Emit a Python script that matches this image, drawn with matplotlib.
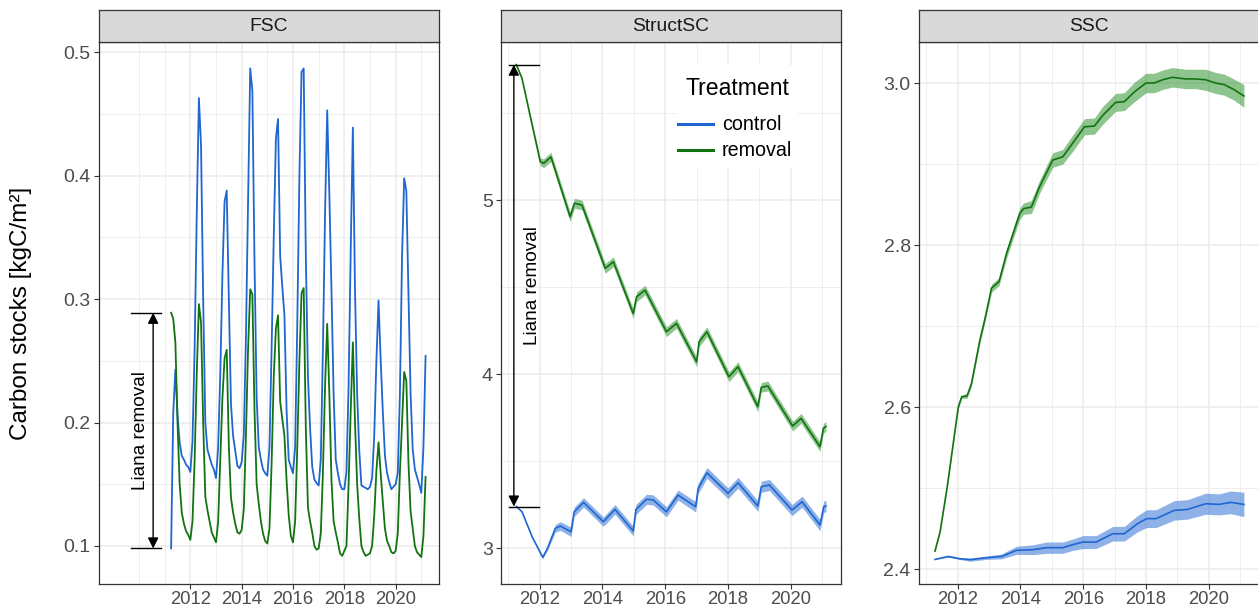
import numpy as np
import matplotlib
matplotlib.use("Agg")
import matplotlib.pyplot as plt
from matplotlib.patches import Rectangle
from matplotlib.lines import Line2D

plt.rcParams['font.family'] = ['Liberation Sans', 'DejaVu Sans']

# ---------------------------------------------------------------- data
# FSC: monthly values, April 2011 .. March 2021
fsc_start = 2011 + 3 / 12
fsc_control = [
    0.098, 0.208, 0.243, 0.206, 0.184, 0.173, 0.170, 0.166, 0.164,
    0.160, 0.185, 0.260, 0.370, 0.463, 0.424, 0.300, 0.200, 0.178, 0.172, 0.166, 0.162,
    0.155, 0.180, 0.240, 0.320, 0.379, 0.388, 0.300, 0.215, 0.189, 0.177, 0.165, 0.163,
    0.168, 0.190, 0.270, 0.380, 0.487, 0.469, 0.330, 0.220, 0.180, 0.170, 0.162, 0.159,
    0.157, 0.180, 0.260, 0.350, 0.430, 0.446, 0.335, 0.310, 0.287, 0.210, 0.170, 0.164,
    0.159, 0.180, 0.280, 0.400, 0.484, 0.487, 0.335, 0.237, 0.195, 0.164, 0.154, 0.151,
    0.149, 0.170, 0.260, 0.370, 0.453, 0.385, 0.307, 0.223, 0.170, 0.159, 0.150, 0.146,
    0.146, 0.160, 0.230, 0.340, 0.439, 0.307, 0.223, 0.177, 0.149, 0.148, 0.147, 0.146,
    0.148, 0.155, 0.190, 0.250, 0.299, 0.251, 0.209, 0.173, 0.159, 0.152, 0.146, 0.148,
    0.150, 0.159, 0.223, 0.335, 0.398, 0.388, 0.304, 0.223, 0.178, 0.162, 0.156, 0.150,
    0.143, 0.180, 0.254,
]
fsc_removal = [
    0.289, 0.284, 0.265, 0.200, 0.150, 0.127, 0.118, 0.112, 0.109,
    0.105, 0.120, 0.170, 0.240, 0.296, 0.281, 0.200, 0.140, 0.129, 0.120, 0.111, 0.107,
    0.103, 0.120, 0.170, 0.220, 0.252, 0.259, 0.181, 0.139, 0.127, 0.118, 0.111, 0.110,
    0.113, 0.130, 0.190, 0.260, 0.308, 0.304, 0.210, 0.150, 0.134, 0.120, 0.110, 0.104,
    0.102, 0.114, 0.167, 0.237, 0.276, 0.287, 0.217, 0.203, 0.189, 0.153, 0.125, 0.108,
    0.103, 0.120, 0.180, 0.250, 0.305, 0.309, 0.195, 0.131, 0.120, 0.111, 0.100, 0.097,
    0.098, 0.110, 0.160, 0.230, 0.280, 0.223, 0.153, 0.120, 0.111, 0.103, 0.094, 0.092,
    0.096, 0.100, 0.150, 0.210, 0.265, 0.200, 0.150, 0.122, 0.100, 0.095, 0.092, 0.093,
    0.094, 0.100, 0.125, 0.161, 0.184, 0.159, 0.136, 0.114, 0.104, 0.100, 0.095, 0.094,
    0.096, 0.110, 0.160, 0.200, 0.241, 0.234, 0.167, 0.128, 0.114, 0.100, 0.095, 0.093,
    0.091, 0.108, 0.156,
]

# StructSC: mean and half-width of the confidence band
struct_control_t = [2011.26, 2011.44, 2011.76, 2012.10, 2012.25, 2012.50, 2012.66, 2013.00,
                    2013.10, 2013.40, 2014.03, 2014.40, 2014.98, 2015.07, 2015.41, 2015.62,
                    2016.04, 2016.41, 2016.97, 2017.05, 2017.33, 2018.00, 2018.32, 2018.95,
                    2019.06, 2019.32, 2020.04, 2020.36, 2020.93, 2021.05, 2021.12]
struct_control = [3.240, 3.210, 3.067, 2.948, 3.000, 3.115, 3.128, 3.095,
                  3.210, 3.264, 3.153, 3.224, 3.100, 3.224, 3.282, 3.278,
                  3.210, 3.306, 3.239, 3.345, 3.434, 3.316, 3.377, 3.243,
                  3.354, 3.364, 3.220, 3.268, 3.134, 3.239, 3.243]
struct_control_se = [0.000, 0.002, 0.004, 0.006, 0.012, 0.022, 0.025, 0.027,
                     0.027, 0.027, 0.027, 0.028, 0.028, 0.029, 0.029, 0.029,
                     0.029, 0.029, 0.030, 0.030, 0.031, 0.031, 0.031, 0.031,
                     0.032, 0.032, 0.032, 0.032, 0.033, 0.033, 0.033]

struct_removal_t = [2011.26, 2011.44, 2011.73, 2012.02, 2012.13, 2012.36, 2012.97, 2013.11,
                    2013.35, 2014.09, 2014.35, 2014.98, 2015.09, 2015.36, 2016.04, 2016.36,
                    2017.00, 2017.08, 2017.33, 2018.03, 2018.32, 2018.95, 2019.06, 2019.27,
                    2020.06, 2020.33, 2020.93, 2021.04, 2021.12]
struct_removal = [5.780, 5.700, 5.460, 5.222, 5.213, 5.250, 4.906, 4.983,
                  4.973, 4.609, 4.647, 4.350, 4.446, 4.484, 4.245, 4.293,
                  4.072, 4.187, 4.245, 3.986, 4.044, 3.814, 3.925, 3.933,
                  3.703, 3.747, 3.584, 3.690, 3.700]
struct_removal_se = [0.000, 0.004, 0.012, 0.022, 0.025, 0.027, 0.028, 0.028,
                     0.028, 0.028, 0.028, 0.028, 0.028, 0.028, 0.028, 0.028,
                     0.028, 0.028, 0.028, 0.028, 0.028, 0.028, 0.028, 0.028,
                     0.028, 0.028, 0.028, 0.028, 0.028]

# SSC: mean and half-width of the confidence band
ssc_control_t = [2011.28, 2011.70, 2012.07, 2012.40, 2012.92, 2013.40, 2013.87, 2014.40,
                 2014.83, 2015.35, 2015.67, 2015.99, 2016.41, 2016.94, 2017.31, 2017.73,
                 2018.02, 2018.32, 2018.90, 2019.32, 2019.90, 2020.33, 2020.70, 2021.12]
ssc_control = [2.4123, 2.4160, 2.4132, 2.4120, 2.4144, 2.4160, 2.4235, 2.4243,
               2.4268, 2.4268, 2.4305, 2.4337, 2.4337, 2.4440, 2.4440, 2.4564,
               2.4626, 2.4626, 2.4728, 2.4740, 2.4810, 2.4802, 2.4827, 2.4802]
ssc_control_se = [0.000, 0.001, 0.001, 0.002, 0.002, 0.003, 0.005, 0.006,
                  0.007, 0.007, 0.007, 0.008, 0.008, 0.009, 0.009, 0.010,
                  0.011, 0.011, 0.012, 0.012, 0.013, 0.013, 0.014, 0.015]

ssc_removal_t = [2011.28, 2011.44, 2011.67, 2012.02, 2012.13, 2012.30, 2012.44, 2012.71,
                 2012.87, 2013.08, 2013.32, 2013.56, 2013.98, 2014.10, 2014.35, 2014.61,
                 2015.03, 2015.35, 2015.67, 2016.04, 2016.36, 2016.62, 2017.03, 2017.31,
                 2017.63, 2018.00, 2018.26, 2018.53, 2018.84, 2019.27, 2019.59, 2019.90,
                 2020.22, 2020.49, 2020.80, 2021.12]
ssc_removal = [2.4226, 2.446, 2.502, 2.600, 2.613, 2.614, 2.629, 2.683,
               2.709, 2.747, 2.755, 2.790, 2.839, 2.845, 2.847, 2.872,
               2.905, 2.909, 2.926, 2.946, 2.947, 2.960, 2.976, 2.977,
               2.989, 3.000, 3.000, 3.004, 3.007, 3.005, 3.005, 3.004,
               3.000, 2.998, 2.992, 2.984]
ssc_removal_se = [0.000, 0.001, 0.001, 0.002, 0.002, 0.003, 0.003, 0.004,
                  0.004, 0.005, 0.005, 0.006, 0.007, 0.007, 0.008, 0.008,
                  0.009, 0.009, 0.010, 0.010, 0.010, 0.011, 0.011, 0.011,
                  0.012, 0.012, 0.012, 0.012, 0.012, 0.012, 0.012, 0.013,
                  0.013, 0.013, 0.013, 0.014]

panel_titles = ["FSC", "StructSC", "SSC"]
treatments = ["control", "removal"]
legend_title = "Treatment"
year_ticks = [2012, 2014, 2016, 2018, 2020]
ylabel = "Carbon stocks [kgC/m²]"
arrow_label = "Liana removal"

# ---------------------------------------------------------------- style
COL = {"control": "#1F66D1", "removal": "#127312"}
FILL = {"control": "#1F66D1", "removal": "#1F8A1F"}
BORDER = "#333333"
GRID = "#EBEBEB"
TICKCOL = "#4D4D4D"

W, H = 1258, 610
fig = plt.figure(figsize=(W / 100, H / 100), dpi=100)


def px_axes(left, right, top, bottom):
    return [left / W, 1 - bottom / H, (right - left) / W, (bottom - top) / H]


def fx(x):
    return x / W


def fy(y):
    return 1 - y / H


panel_px = [(99, 439), (501, 841), (919, 1259)]
top_px, bottom_px, strip_top = 42, 584, 10
xlims = [(2008.44, 2021.69), (2010.77, 2021.60), (2010.77, 2021.60)]
ylims = [(0.0692, 0.5084), (2.795, 5.91), (2.382, 3.0506)]
yticks = [[0.1, 0.2, 0.3, 0.4, 0.5], [3, 4, 5], [2.4, 2.6, 2.8, 3.0]]
ylabels_fmt = ["{:.1f}", "{:.0f}", "{:.1f}"]
yminor = [[0.15, 0.25, 0.35, 0.45], [3.5, 4.5, 5.5], [2.5, 2.7, 2.9]]

axes = []
for i, (l, r) in enumerate(panel_px):
    ax = fig.add_axes(px_axes(l, r, top_px, bottom_px))
    ax.set_xlim(*xlims[i])
    ax.set_ylim(*ylims[i])
    ax.set_xticks(year_ticks)
    ax.set_xticklabels([str(y) for y in year_ticks])
    lo, hi = xlims[i]
    minor_x = [y for y in range(2010, 2022) if y not in year_ticks and lo < y < hi]
    ax.set_xticks(minor_x, minor=True)
    ax.set_yticks(yticks[i])
    ax.set_yticklabels([ylabels_fmt[i].format(v) for v in yticks[i]])
    ax.set_yticks(yminor[i], minor=True)
    ax.grid(which="major", color=GRID, lw=1.1, zorder=0)
    ax.grid(which="minor", color=GRID, lw=0.6, zorder=0)
    ax.set_axisbelow(True)
    ax.tick_params(which="major", length=3.5, width=0.8, color=BORDER,
                   labelcolor=TICKCOL)
    ax.tick_params(axis="x", which="major", labelsize=13.3, pad=1.5)
    ax.tick_params(axis="y", which="major", labelsize=14.0, pad=2.5)
    ax.tick_params(which="minor", length=0)
    for s in ax.spines.values():
        s.set_color(BORDER)
        s.set_linewidth(0.9)
    axes.append(ax)

    # facet strip
    sax = fig.add_axes(px_axes(l, r, strip_top, top_px))
    sax.set_facecolor("#D9D9D9")
    sax.set_xticks([])
    sax.set_yticks([])
    for s in sax.spines.values():
        s.set_color(BORDER)
        s.set_linewidth(0.9)
    sax.text(0.5, 0.47, panel_titles[i], ha="center", va="center",
             fontsize=13.9, color="#1A1A1A", transform=sax.transAxes)

# --- FSC
ax = axes[0]
t_fsc = fsc_start + np.arange(len(fsc_control)) / 12
ax.plot(t_fsc, fsc_control, color=COL["control"], lw=1.3, zorder=3)
ax.plot(t_fsc, fsc_removal, color=COL["removal"], lw=1.3, zorder=3)


def band(ax, t, m, se, key):
    t, m, se = np.asarray(t), np.asarray(m), np.asarray(se)
    ax.fill_between(t, m - se, m + se, color=FILL[key], alpha=0.5, lw=0, zorder=2)
    ax.plot(t, m, color=COL[key], lw=1.2, zorder=3)


band(axes[1], struct_control_t, struct_control, struct_control_se, "control")
band(axes[1], struct_removal_t, struct_removal, struct_removal_se, "removal")
band(axes[2], ssc_control_t, ssc_control, ssc_control_se, "control")
band(axes[2], ssc_removal_t, ssc_removal, ssc_removal_se, "removal")


def removal_arrow(ax, y_low, y_high, x_arrow, x_bar0, x_bar1, x_text):
    for y in (y_low, y_high):
        ax.plot([x_bar0, x_bar1], [y, y], color="black", lw=1.0, zorder=4)
    ax.annotate("", xy=(x_arrow, y_high), xytext=(x_arrow, y_low),
                arrowprops=dict(arrowstyle="<|-|>", color="black", lw=1.0,
                                mutation_scale=16, shrinkA=0, shrinkB=0),
                zorder=4)
    ax.text(x_text, (y_low + y_high) / 2, arrow_label, rotation=90,
            ha="center", va="center", fontsize=13.7, color="black", zorder=4)


removal_arrow(axes[0], fsc_control[0], fsc_removal[0], 2010.55, 2009.68, 2010.84, 2010.07)
removal_arrow(axes[1], struct_control[0], struct_removal[0], 2011.18, 2011.02, 2011.97, 2011.78)

# legend box inside the StructSC panel
fig.patches.append(Rectangle((fx(677), fy(168)), fx(798) - fx(677), fy(65) - fy(168),
                             transform=fig.transFigure, facecolor="white",
                             edgecolor="none", zorder=5))
fig.text(fx(686), fy(95), legend_title, ha="left", va="baseline",
         fontsize=16.6, color="black", zorder=6)
for k, (key_y, base_y) in zip(treatments, [(124, 130), (150, 156)]):
    fig.add_artist(Line2D([fx(678), fx(713)], [fy(key_y), fy(key_y)],
                          transform=fig.transFigure, color=COL[k], lw=2.2, zorder=6))
    fig.text(fx(722), fy(base_y), k, ha="left", va="baseline",
             fontsize=14.2, color="black", zorder=6)

fig.text(fx(21), fy(313), ylabel, rotation=90, ha="center", va="center",
         fontsize=17.5, color="black")

fig.savefig("out.png", dpi=100)
